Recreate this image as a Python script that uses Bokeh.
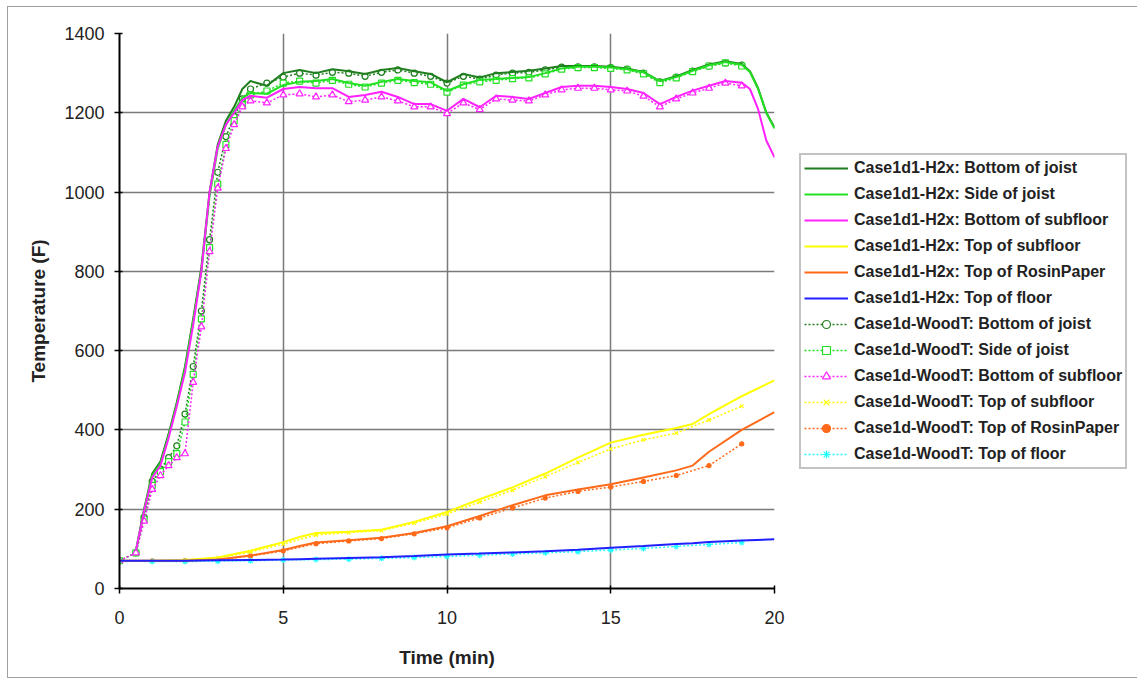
from bokeh.plotting import figure
from bokeh.layouts import row
from bokeh.models import Legend, LegendItem, FixedTicker
from bokeh.embed import file_html
from bokeh.resources import INLINE

# ---------------- data ----------------
# Case1d1-H2x high-temperature series (time in min)
t_hi = [0.5, 0.75, 1.0, 1.25, 1.5, 1.75, 2.0, 2.25, 2.5, 2.75, 3.0, 3.25, 3.5, 3.75, 4.0,
        4.5, 5.0, 5.5, 6.0, 6.5, 7.0, 7.5, 8.0, 8.5, 9.0, 9.5, 10.0, 10.5, 11.0, 11.5,
        12.0, 12.5, 13.0, 13.5, 14.0, 14.5, 15.0, 15.5, 16.0, 16.5, 17.0, 17.5, 18.0,
        18.5, 19.0, 19.25, 19.5, 19.75, 20.0]
h2x_bottom_joist = [95, 200, 290, 320, 390, 470, 560, 680, 810, 1000, 1120, 1180, 1215, 1260, 1280,
                    1268, 1300, 1308, 1300, 1310, 1305, 1298, 1308, 1313, 1305, 1298, 1277, 1298, 1289, 1300,
                    1303, 1306, 1312, 1318, 1318, 1318, 1316, 1312, 1303, 1280, 1292, 1308, 1322,
                    1330, 1323, 1305, 1262, 1200, 1163]
h2x_side_joist = [95, 195, 285, 315, 385, 465, 555, 675, 800, 990, 1110, 1170, 1205, 1238, 1250,
                  1248, 1270, 1278, 1280, 1285, 1275, 1268, 1278, 1285, 1280, 1277, 1255, 1272, 1283, 1285,
                  1288, 1290, 1300, 1312, 1316, 1316, 1314, 1310, 1302, 1280, 1290, 1306, 1320,
                  1328, 1321, 1303, 1260, 1200, 1160]
h2x_bottom_subfloor = [95, 195, 280, 310, 380, 460, 545, 665, 800, 1000, 1115, 1170, 1200, 1232, 1243,
                       1238, 1260, 1265, 1262, 1262, 1240, 1245, 1253, 1240, 1222, 1222, 1205, 1235, 1214, 1243,
                       1240, 1235, 1250, 1265, 1268, 1268, 1265, 1260, 1250, 1222, 1240, 1256, 1268,
                       1280, 1276, 1260, 1209, 1130, 1088]

# Case1d1-H2x low-temperature series
t_lo = [0, 1, 2, 3, 4, 5, 5.5, 6, 7, 8, 9, 10, 11, 12, 13, 14, 15, 16, 17, 17.5, 18, 19, 20]
h2x_top_subfloor = [70, 70, 72, 78, 95, 117, 130, 140, 143, 148, 168, 193, 225, 255, 290, 330,
                    368, 388, 405, 415, 440, 485, 525]
h2x_top_rosin = [70, 70, 70, 73, 83, 97, 107, 116, 122, 128, 140, 157, 183, 210, 235, 250,
                 263, 280, 298, 310, 345, 400, 445]
h2x_top_floor = [70, 70, 70, 71, 72, 73, 74, 75, 77, 79, 82, 86, 88, 91, 94, 98,
                 103, 107, 112, 114, 117, 121, 124]

# Case1d-WoodT high-temperature series
t_w = [0, 0.5, 0.75, 1.0, 1.25, 1.5, 1.75, 2.0, 2.25, 2.5, 2.75, 3.0, 3.25, 3.5, 3.75, 4.0,
       4.5, 5.0, 5.5, 6.0, 6.5, 7.0, 7.5, 8.0, 8.5, 9.0, 9.5, 10.0, 10.5, 11.0, 11.5,
       12.0, 12.5, 13.0, 13.5, 14.0, 14.5, 15.0, 15.5, 16.0, 16.5, 17.0, 17.5, 18.0, 18.5, 19.0]
wood_bottom_joist = [70, 90, 180, 270, 300, 330, 360, 440, 560, 700, 880, 1050, 1140, 1190, 1235, 1260,
                     1275, 1290, 1300, 1295, 1302, 1300, 1292, 1302, 1308, 1300, 1292, 1275, 1292, 1285, 1295,
                     1300, 1302, 1308, 1315, 1316, 1316, 1314, 1310, 1300, 1278, 1290, 1305, 1318, 1326, 1320]
wood_side_joist = [70, 90, 175, 260, 295, 320, 340, 420, 540, 680, 860, 1020, 1120, 1180, 1220, 1245,
                   1255, 1275, 1280, 1275, 1282, 1272, 1265, 1275, 1282, 1276, 1272, 1252, 1270, 1278, 1282,
                   1286, 1288, 1298, 1310, 1314, 1314, 1312, 1308, 1298, 1276, 1288, 1304, 1318, 1326, 1318]
wood_bottom_subfloor = [70, 90, 170, 250, 285, 310, 330, 340, 520, 660, 850, 1010, 1110, 1170, 1215, 1230,
                        1225, 1245, 1248, 1240, 1245, 1228, 1232, 1240, 1230, 1215, 1215, 1198, 1225, 1208, 1235,
                        1232, 1230, 1245, 1258, 1262, 1262, 1258, 1255, 1242, 1215, 1235, 1250, 1262, 1275, 1268]

# Case1d-WoodT low-temperature series
t_wl = [0, 1, 2, 3, 4, 5, 6, 7, 8, 9, 10, 11, 12, 13, 14, 15, 16, 17, 18, 19]
wood_top_subfloor = [70, 70, 72, 77, 92, 112, 135, 141, 146, 165, 188, 218, 248, 282, 318, 352, 375, 392, 425, 460]
wood_top_rosin = [70, 70, 70, 72, 82, 95, 113, 120, 126, 138, 153, 178, 203, 228, 245, 256, 270, 285, 310, 365]
wood_top_floor = [70, 68, 68, 69, 70, 72, 73, 74, 76, 78, 81, 84, 87, 90, 93, 97, 101, 106, 111, 116]

x_ticks = [0, 5, 10, 15, 20]
y_ticks = [0, 200, 400, 600, 800, 1000, 1200, 1400]

# ---------------- main figure ----------------
p = figure(width=778, height=670, output_backend="svg", toolbar_location=None,
           x_range=(0, 20), y_range=(0, 1400),
           min_border_left=111, min_border_right=12, min_border_top=26, min_border_bottom=89,
           background_fill_color="white", border_fill_color="white")
p.outline_line_color = None

FONT = "Liberation Sans"
p.xaxis.ticker = FixedTicker(ticks=x_ticks)
p.yaxis.ticker = FixedTicker(ticks=y_ticks)
for ax in (p.xaxis, p.yaxis):
    ax.axis_line_color = "black"
    ax.axis_line_width = 2
    ax.major_tick_line_color = "black"
    ax.major_tick_line_width = 1.5
    ax.major_tick_out = 5
    ax.major_tick_in = 3
    ax.minor_tick_line_color = None
    ax.major_label_text_font = FONT
    ax.major_label_text_font_size = "18px"
    ax.major_label_text_color = "#222222"
    ax.axis_label_text_font = FONT
    ax.axis_label_text_font_size = "19px"
    ax.axis_label_text_font_style = "bold"
    ax.axis_label_text_color = "#222222"
p.xaxis.axis_label = "Time (min)"
p.yaxis.axis_label = "Temperature (F)"
p.xaxis.major_label_standoff = 17
p.yaxis.major_label_standoff = 10
p.xaxis.axis_label_standoff = 20
p.yaxis.axis_label_standoff = 12
for g in (p.xgrid, p.ygrid):
    g.grid_line_color = "#7a7a7a"
    g.grid_line_width = 1.5

DKGREEN = "#1f7f1f"
GREEN = "#22e022"
MAGENTA = "#ff22ff"
YELLOW = "#ffff00"
ORANGE = "#ff6a1a"
BLUE = "#2020ff"
CYAN = "#22ffff"

solid = [
    ("Case1d1-H2x: Bottom of joist", t_hi, h2x_bottom_joist, DKGREEN),
    ("Case1d1-H2x: Side of joist", t_hi, h2x_side_joist, GREEN),
    ("Case1d1-H2x: Bottom of subfloor", t_hi, h2x_bottom_subfloor, MAGENTA),
    ("Case1d1-H2x: Top of subfloor", t_lo, h2x_top_subfloor, YELLOW),
    ("Case1d1-H2x: Top of RosinPaper", t_lo, h2x_top_rosin, ORANGE),
    ("Case1d1-H2x: Top of floor", t_lo, h2x_top_floor, BLUE),
]
dotted = [
    ("Case1d-WoodT: Bottom of joist", t_w, wood_bottom_joist, DKGREEN, "circle", 6, "white"),
    ("Case1d-WoodT: Side of joist", t_w, wood_side_joist, GREEN, "square", 6, "white"),
    ("Case1d-WoodT: Bottom of subfloor", t_w, wood_bottom_subfloor, MAGENTA, "triangle", 7, "white"),
    ("Case1d-WoodT: Top of subfloor", t_wl, wood_top_subfloor, YELLOW, "x", 5, None),
    ("Case1d-WoodT: Top of RosinPaper", t_wl, wood_top_rosin, ORANGE, "circle", 4, ORANGE),
    ("Case1d-WoodT: Top of floor", t_wl, wood_top_floor, CYAN, "asterisk", 6, None),
]

for label, xs, ys, col, mk, sz, fill in dotted:
    p.line(xs, ys, line_color=col, line_width=1.5, line_dash="2 2")
    p.scatter(xs, ys, marker=mk, size=sz, line_color=col, line_width=1.2,
              fill_color=fill if fill else None)
for label, xs, ys, col in solid:
    p.line(xs, ys, line_color=col, line_width=2)

# ---------------- legend panel ----------------
# A second figure holds only the legend; it carries the same series, but its
# ranges lie outside the data so only the legend glyphs are seen.
lg = figure(width=351, height=670, output_backend="svg", toolbar_location=None,
            x_axis_type=None, y_axis_type=None, x_range=(0, 1), y_range=(0, 1),
            min_border=0, background_fill_color="white", border_fill_color="white")
lg.outline_line_color = None
lg.xgrid.visible = False
lg.ygrid.visible = False

items = []
for label, xs, ys, col in solid:
    r = lg.line(xs, ys, line_color=col, line_width=2)
    items.append(LegendItem(label=label, renderers=[r]))
for label, xs, ys, col, mk, sz, fill in dotted:
    r1 = lg.line(xs, ys, line_color=col, line_width=1.5, line_dash="2 2")
    r2 = lg.scatter(xs, ys, marker=mk, size=sz, line_color=col, line_width=1.2,
                    fill_color=fill if fill else None)
    items.append(LegendItem(label=label, renderers=[r1, r2]))

legend = Legend(items=items, location=(13, 119),
                label_text_font=FONT, label_text_font_size="16px",
                label_text_font_style="bold", label_text_color="#222222",
                glyph_width=44, glyph_height=20, label_height=20, spacing=6,
                padding=3, margin=0, label_standoff=6,
                border_line_color="#888888", border_line_width=2,
                background_fill_color="white", background_fill_alpha=1)
lg.add_layout(legend, "center")

layout = row(p, lg)
layout.styles = {"border-left": "1px solid #a0a0a0", "border-top": "1px solid #a0a0a0",
                 "border-bottom": "1px solid #a0a0a0"}
layout.margin = (6, 0, 0, 7)

open("out.html", "w").write(file_html(layout, INLINE))
